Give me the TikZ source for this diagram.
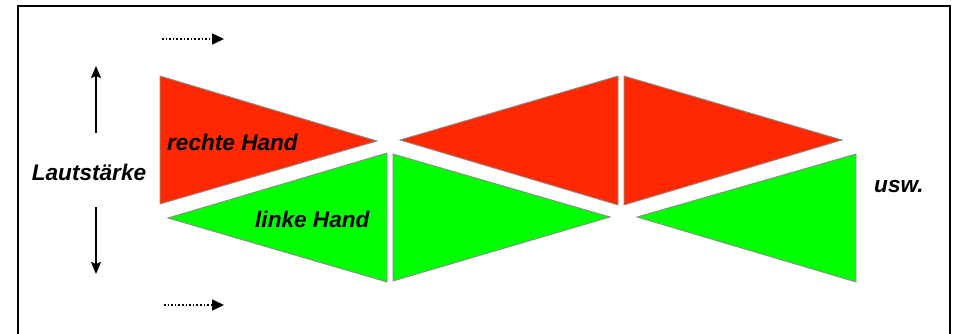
\documentclass[tikz,border=0pt]{standalone}
\usepackage{fontspec}
\setmainfont{Liberation Sans}
\usetikzlibrary{arrows.meta}
\definecolor{handred}{RGB}{255,40,0}
\definecolor{handgreen}{RGB}{0,255,0}
\definecolor{edgegray}{RGB}{140,140,140}
\begin{document}
\begin{tikzpicture}[x=1pt,y=-1pt,
  tri/.style={draw=edgegray,line width=0.9pt,line join=miter},
  redtri/.style={tri,fill=handred},
  greentri/.style={tri,fill=handgreen},
  lbl/.style={font=\fontsize{22.6}{26}\selectfont\bfseries\itshape,inner sep=0pt},
  volarrow/.style={line width=1.6pt,-{Stealth[length=12pt,width=10pt,inset=2pt]}},
  timearrow/.style={line width=1.6pt,dotted,-{Triangle[length=12pt,width=11pt]}}]
\useasboundingbox (0,0) rectangle (955,334);
% frame (open at bottom)
\draw[line width=2pt] (18,334) -- (18,6) -- (950,6) -- (950,334);
% red triangles
\draw[redtri] (160,76) -- (160,204) -- (377,141) -- cycle;
\draw[redtri] (400,140) -- (618,76) -- (618,205) -- cycle;
\draw[redtri] (624,76) -- (624,205) -- (842,140) -- cycle;
% green triangles
\draw[greentri] (168,218) -- (387,153) -- (387,282) -- cycle;
\draw[greentri] (393,154) -- (393,281) -- (610,217) -- cycle;
\draw[greentri] (637,217) -- (856,154) -- (856,282) -- cycle;
% labels
\node[lbl] (laut) at (89,172) {Lautstärke};
\node[lbl,anchor=west] (rechts) at (167,142) {rechte Hand};
\node[lbl,anchor=west] (links) at (255,219) {linke Hand};
\node[lbl,anchor=west] (usw) at (874,187) {usw.};
% volume arrows
\coordinate (upS) at (96,133); \coordinate (upE) at (96,66);
\coordinate (dnS) at (96,207); \coordinate (dnE) at (96,274);
\draw[volarrow] (upS) -- (upE);
\draw[volarrow] (dnS) -- (dnE);
% time arrows
\coordinate (t1S) at (162,39); \coordinate (t1E) at (224,39);
\coordinate (t2S) at (164,305); \coordinate (t2E) at (224,305);
\draw[timearrow] (t1S) -- (t1E);
\draw[timearrow] (t2S) -- (t2E);
\end{tikzpicture}
\end{document}
